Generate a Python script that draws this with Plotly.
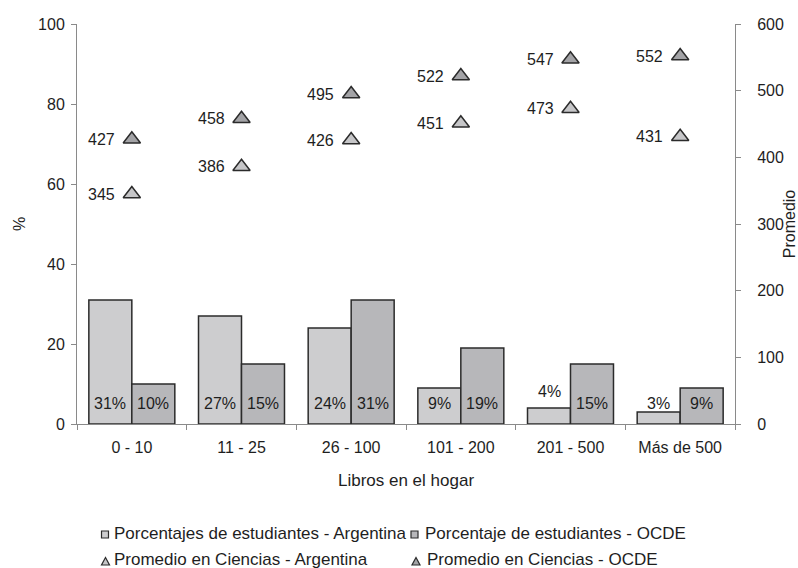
import plotly.graph_objects as go

# Libros en el hogar: distribución de estudiantes y promedio en Ciencias
categorias = ["0 - 10", "11 - 25", "26 - 100", "101 - 200", "201 - 500", "Más de 500"]
pct_argentina = [31, 27, 24, 9, 4, 3]
pct_ocde = [10, 15, 31, 19, 15, 9]
prom_argentina = [345, 386, 426, 451, 473, 431]
prom_ocde = [427, 458, 495, 522, 547, 552]

nombres = [
    "Porcentajes de estudiantes - Argentina",
    "Porcentaje de estudiantes - OCDE",
    "Promedio en Ciencias - Argentina",
    "Promedio en Ciencias - OCDE",
]

FONT = "Liberation Sans, Arial, sans-serif"
TXT = "#1e1e1e"
AXIS = "#8a8a8a"
EDGE = "#2b2b2b"
GRIS_ARG = "#cdcdcf"
GRIS_OCDE = "#b7b7ba"
TRI_ARG = "#c6c6c8"
TRI_OCDE = "#a3a3a6"

W, H = 798, 568
ML, MR, MT, MB = 77, 63, 24, 144
PW, PH = W - ML - MR, H - MT - MB


def px(xp):
    return (xp - ML) / PW


def py(yp):
    return (H - MB - yp) / PH


fig = go.Figure()

fig.add_trace(go.Bar(
    x=categorias, y=pct_argentina, name=nombres[0],
    marker=dict(color=GRIS_ARG, line=dict(color=EDGE, width=1.5)),
    showlegend=False, hoverinfo="skip",
))
fig.add_trace(go.Bar(
    x=categorias, y=pct_ocde, name=nombres[1],
    marker=dict(color=GRIS_OCDE, line=dict(color=EDGE, width=1.5)),
    showlegend=False, hoverinfo="skip",
))
fig.add_trace(go.Scatter(
    x=categorias, y=prom_argentina, name=nombres[2], yaxis="y2", mode="markers",
    marker=dict(symbol="triangle-up", size=15, color=TRI_ARG,
                line=dict(color=EDGE, width=1.5)),
    showlegend=False, hoverinfo="skip",
))
fig.add_trace(go.Scatter(
    x=categorias, y=prom_ocde, name=nombres[3], yaxis="y2", mode="markers",
    marker=dict(symbol="triangle-up", size=15, color=TRI_OCDE,
                line=dict(color=EDGE, width=1.5)),
    showlegend=False, hoverinfo="skip",
))

anots = []
# etiquetas de porcentaje al pie de cada barra
bar_half = PW / len(categorias) * (1 - 0.216) / 4
for i, cat in enumerate(categorias):
    for vals, sgn in ((pct_argentina, -1), (pct_ocde, 1)):
        v = vals[i]
        ylab = 5.25
        if 4 <= v < 5:
            ylab = v + 4.2  # el rótulo queda sobre la barra baja
        anots.append(dict(
            x=cat, y=ylab, xref="x", yref="y", text=f"{v}%", showarrow=False,
            xshift=sgn * bar_half, font=dict(family=FONT, size=16, color=TXT),
        ))
    for vals in (prom_argentina, prom_ocde):
        anots.append(dict(
            x=cat, y=vals[i], xref="x", yref="y2", text=str(vals[i]),
            showarrow=False, xanchor="right", xshift=-15,
            font=dict(family=FONT, size=16, color=TXT),
        ))

# leyenda en dos filas
shapes = []
ley = [
    (105, 534.5, 111.5, 533, "sq", GRIS_ARG, nombres[0]),
    (414.5, 534.5, 422.5, 533, "sq", GRIS_OCDE, nombres[1]),
    (105.5, 561.5, 111.5, 559.5, "tri", TRI_ARG, nombres[2]),
    (416, 561.5, 424.5, 559.5, "tri", TRI_OCDE, nombres[3]),
]
for cx, cy, tx, ty, kind, col, nom in ley:
    if kind == "sq":
        shapes.append(dict(
            type="rect", xref="paper", yref="paper", xsizemode="pixel", ysizemode="pixel",
            xanchor=px(cx), yanchor=py(cy), x0=-3.5, x1=3.5, y0=-3.5, y1=3.5,
            fillcolor=col, line=dict(color=EDGE, width=1.2),
        ))
    else:
        shapes.append(dict(
            type="path", xref="paper", yref="paper", xsizemode="pixel", ysizemode="pixel",
            xanchor=px(cx), yanchor=py(cy), path="M -4 -3.5 L 4 -3.5 L 0 4 Z",
            fillcolor=col, line=dict(color=EDGE, width=1.2),
        ))
    anots.append(dict(
        x=px(tx), y=py(ty), xref="paper", yref="paper", text=nom, showarrow=False,
        xanchor="left", yanchor="middle", font=dict(family=FONT, size=17, color=TXT),
    ))

fig.update_layout(
    width=W, height=H,
    margin=dict(l=ML, r=MR, t=MT, b=MB, pad=0, autoexpand=False),
    paper_bgcolor="white", plot_bgcolor="white",
    barmode="group", bargap=0.216, bargroupgap=0,
    font=dict(family=FONT, size=15, color=TXT),
    showlegend=False,
    xaxis=dict(
        type="category", showgrid=False, showline=True, linecolor=AXIS, linewidth=1,
        ticks="outside", tickson="boundaries", ticklen=5, tickcolor=AXIS,
        tickfont=dict(family=FONT, size=16, color=TXT), ticklabelstandoff=9,
        automargin=False,
        title=dict(text="Libros en el hogar", font=dict(family=FONT, size=17, color=TXT),
                   standoff=18),
    ),
    yaxis=dict(
        range=[0, 100], tickvals=[0, 20, 40, 60, 80, 100], showgrid=False, zeroline=False,
        showline=True, linecolor=AXIS, linewidth=1, ticks="outside", ticklen=5,
        tickcolor=AXIS, tickfont=dict(family=FONT, size=16, color=TXT),
        ticklabelstandoff=3, automargin=False,
        title=dict(text="%", font=dict(family=FONT, size=16, color=TXT), standoff=8),
    ),
    yaxis2=dict(
        range=[0, 600], tickvals=[0, 100, 200, 300, 400, 500, 600], overlaying="y",
        side="right", showgrid=False, zeroline=False, showline=True, linecolor=AXIS,
        linewidth=1, ticks="outside", ticklen=5, tickcolor=AXIS,
        tickfont=dict(family=FONT, size=16, color=TXT), ticklabelstandoff=13,
        automargin=False,
        title=dict(text="Promedio", font=dict(family=FONT, size=16, color=TXT), standoff=8),
    ),
    annotations=anots,
    shapes=shapes,
)

fig.write_html("out.html")
